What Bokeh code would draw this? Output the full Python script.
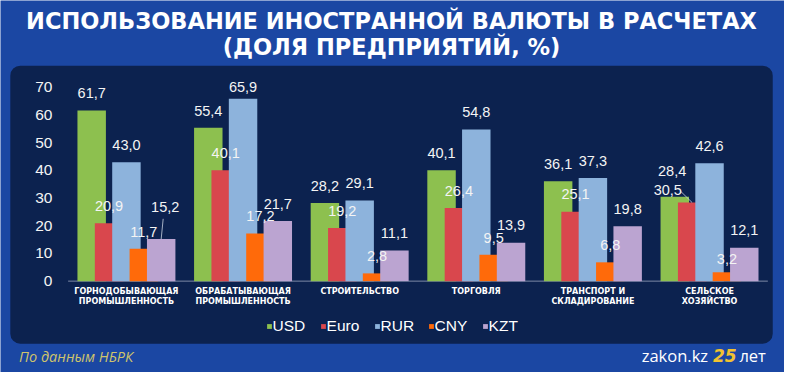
import numpy as np
from bokeh.plotting import figure
from bokeh.models import Range1d, BoxAnnotation, Legend, LegendItem, ColumnDataSource
from bokeh.core.properties import value
from bokeh.embed import file_html
from bokeh.resources import INLINE

# ---------------- data ----------------
title_lines = ["ИСПОЛЬЗОВАНИЕ ИНОСТРАННОЙ ВАЛЮТЫ В РАСЧЕТАХ", "(ДОЛЯ ПРЕДПРИЯТИЙ, %)"]
categories = ["ГОРНОДОБЫВАЮЩАЯ\nПРОМЫШЛЕННОСТЬ", "ОБРАБАТЫВАЮЩАЯ\nПРОМЫШЛЕННОСТЬ",
              "СТРОИТЕЛЬСТВО", "ТОРГОВЛЯ", "ТРАНСПОРТ И\nСКЛАДИРОВАНИЕ", "СЕЛЬСКОЕ\nХОЗЯЙСТВО"]
series_names = ["USD", "Euro", "RUR", "CNY", "KZT"]
usd = [61.7, 55.4, 28.2, 40.1, 36.1, 30.5]
euro = [20.9, 40.1, 19.2, 26.4, 25.1, 28.4]
rur = [43.0, 65.9, 29.1, 54.8, 37.3, 42.6]
cny = [11.7, 17.2, 2.8, 9.5, 6.8, 3.2]
kzt = [15.2, 21.7, 11.1, 13.9, 19.8, 12.1]
y_ticks = [0, 10, 20, 30, 40, 50, 60, 70]
source_note = "По данным НБРК"
brand_left, brand_num, brand_right = "zakon.kz", "25", "лет"

# ---------------- style / layout ----------------
colors = ["#8dc04f", "#d9474d", "#8db3dc", "#ff6a0a", "#bba4d1"]
BG = "#1b47a3"
PANEL = "#0c224f"
W, H = 784, 372
SX, SY = W / 800.0, H / 388.0          # reference-pixel -> figure-pixel
GROUP_PX = 119.0 * SX                   # px per category
X0_PX = 128.5 * SX                      # px of first category centre
BASE_PX = 292.7 * SY                    # px (from top) of value 0
PPU = 202.0 / 70.0 * SY                 # px per value unit
BAR_W = 0.244
STEP = 0.149
LABEL_GAP = 18.0 * SY

x_start = -X0_PX / GROUP_PX
x_end = (W - X0_PX) / GROUP_PX
y_start = -(H - BASE_PX) / PPU
y_end = BASE_PX / PPU


def px2x(rx):
    return x_start + rx * SX / GROUP_PX


def py2y(ry):
    return (BASE_PX - ry * SY) / PPU


p = figure(width=W, height=H, x_range=Range1d(x_start, x_end), y_range=Range1d(y_start, y_end),
           output_backend="svg", toolbar_location=None, min_border=0,
           x_axis_location=None, y_axis_location=None,
           background_fill_color=BG, border_fill_color=BG, outline_line_color=None)
p.grid.visible = False

panel = BoxAnnotation(left=px2x(10), right=px2x(788), top=py2y(68), bottom=py2y(358),
                      fill_color=PANEL, fill_alpha=1.0, line_color=None, border_radius=10,
                      level="underlay")
p.add_layout(panel)

# baseline
p.segment(x0=[-0.5], x1=[len(categories) - 0.5], y0=[0], y1=[0], line_color="#7d89a6", line_width=1)

# bars
all_series = [usd, euro, rur, cny, kzt]
xs = np.arange(len(categories))
renderers = []
for k, (name, vals, col) in enumerate(zip(series_names, all_series, colors)):
    off = (k - 2) * STEP
    src = ColumnDataSource(dict(x=xs + off, top=vals))
    r = p.vbar(x="x", top="top", bottom=0, width=BAR_W, source=src, fill_color=col, line_color=None)
    renderers.append(r)

# data labels (a few manual nudges in px: dx, dy(down), leader start offset)
adjust = {("KZT", 0): (4, -15, (-2, 12)),
          ("RUR", 1): (0, 5.5, None),
          ("USD", 5): (-7, 10.5, None),
          ("Euro", 5): (-20, -14.5, (8, 20)),
          ("CNY", 5): (0, 4, None)}
lx, ly, lt = [], [], []
sx0, sy0, sx1, sy1 = [], [], [], []
for k, (name, vals) in enumerate(zip(series_names, all_series)):
    off = (k - 2) * STEP
    for i, v in enumerate(vals):
        dx, dy, lead = adjust.get((name, i), (0, 0, None))
        xl = i + off + dx / GROUP_PX
        yl = v + (LABEL_GAP - dy) / PPU
        lx.append(xl)
        ly.append(yl)
        lt.append(f"{v:.1f}".replace(".", ","))
        if lead is not None:
            sx0.append(xl + lead[0] / GROUP_PX)
            sy0.append(yl - lead[1] / PPU)
            sx1.append(i + off)
            sy1.append(v)
p.segment(x0=sx0, y0=sy0, x1=sx1, y1=sy1, line_color="#c9d2e0", line_width=0.8)
p.text(x=lx, y=ly, text=lt, text_align="center", text_baseline="middle",
       text_color="#f4f4f4", text_font=value("Liberation Sans"), text_font_size="14.5px")

# y tick labels
p.text(x=[px2x(53)] * len(y_ticks), y=y_ticks, text=[str(t) for t in y_ticks],
       text_align="right", text_baseline="middle", text_color="#f4f4f4",
       text_font=value("Liberation Sans"), text_font_size="15.5px")

# category labels
line1 = [c.split("\n")[0] for c in categories]
line2 = [c.split("\n")[1] if "\n" in c else "" for c in categories]
for txt, ry in ((line1, 303), (line2, 313.5)):
    p.text(x=list(xs), y=[py2y(ry)] * len(xs), text=txt, text_align="center", text_baseline="middle",
           text_color="#ffffff", text_font=value("DejaVu Sans"), text_font_style="bold",
           text_font_size="8px")

# title
for t, ry in zip(title_lines, (21.5, 48)):
    p.text(x=[px2x(399)], y=[py2y(ry)], text=[t], text_align="center", text_baseline="middle",
           text_color="#ffffff", text_font=value("DejaVu Sans"), text_font_style="bold",
           text_font_size="22.5px")

# footer
p.text(x=[px2x(19)], y=[py2y(371)], text=[source_note], text_align="left", text_baseline="middle",
       text_color="#cfc46b", text_font=value("Open Sans"), text_font_style="italic",
       text_font_size="14.5px")
p.text(x=[px2x(722)], y=[py2y(370)], text=[brand_left], text_align="right", text_baseline="middle",
       text_color="#ffffff", text_font=value("Open Sans"), text_font_size="16.5px")
p.text(x=[px2x(739)], y=[py2y(370)], text=[brand_num], text_align="center", text_baseline="middle",
       text_color="#f2c230", text_font=value("DejaVu Sans"), text_font_style="bold italic",
       text_font_size="17px")
p.text(x=[px2x(781)], y=[py2y(370)], text=[brand_right], text_align="right", text_baseline="middle",
       text_color="#ffffff", text_font=value("Open Sans"), text_font_size="16.5px")

# legend
legend = Legend(items=[LegendItem(label=n, renderers=[r]) for n, r in zip(series_names, renderers)],
                orientation="horizontal", location=(px2x(271) * 0 + 271 * SX, H - 340.5 * SY - 10),
                glyph_width=6, glyph_height=6, label_standoff=1, label_width=40, label_height=20,
                spacing=7, padding=0, margin=0,
                background_fill_alpha=0, border_line_alpha=0, label_text_color="#ffffff",
                label_text_font="Liberation Sans", label_text_font_size="15.5px")
p.add_layout(legend)

open("out.html", "w").write(file_html(p, INLINE))
